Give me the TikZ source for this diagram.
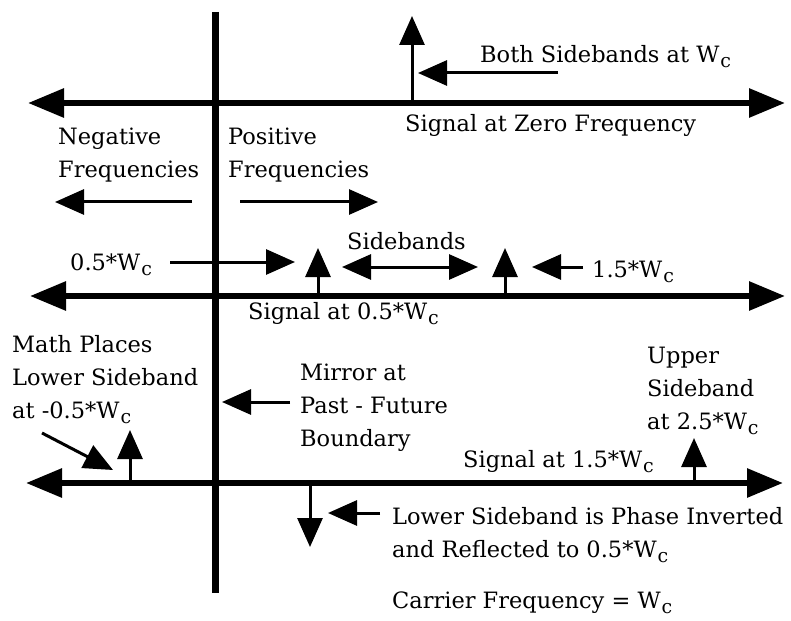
\documentclass[tikz,border=0pt]{standalone}
\usepackage{fontspec}
\setmainfont{DejaVu Serif}
\usetikzlibrary{arrows.meta}

\newcommand{\Wc}{W\kern1pt\raisebox{-5pt}{\fontsize{19}{19}\selectfont c}}

\begin{document}
\begin{tikzpicture}[x=1pt,y=-1pt,
    axis/.style={line width=6pt,{Triangle[length=36pt,width=28pt]}-{Triangle[length=36pt,width=28pt]}},
    boundary/.style={line width=7pt},
    pointer/.style={line width=3pt,-{Triangle[length=29pt,width=25pt]}},
    twoway/.style={pointer,{Triangle[length=29pt,width=25pt]}-{Triangle[length=29pt,width=25pt]}},
    note/.style={font=\fontsize{22.5}{33}\selectfont,anchor=base west,align=left,inner sep=0pt}]

  \path[fill=white,use as bounding box] (0,0) rectangle (791,620);

  % past / future boundary
  \coordinate (top) at (215,12);
  \coordinate (bottom) at (215,593);
  \draw[boundary] (top) -- (bottom);

  % the three frequency axes
  \foreach \n/\y/\l/\r in {1/103/28/785, 2/296/30/785, 3/483/26/783}{
    \coordinate (w\n) at (\l,\y);
    \coordinate (e\n) at (\r,\y);
    \draw[axis] (w\n) -- (e\n);
  }

  % impulses standing on the axes
  \foreach \n/\x/\y/\h in {a/412/103/16, b/318/296/248, c/505/296/248,
                           d/130/483/430, e/694/483/438, f/310/483/547}{
    \coordinate (foot\n) at (\x,\y);
    \coordinate (tip\n) at (\x,\h);
    \draw[pointer] (foot\n) -- (tip\n);
  }

  % labels (multi-line ones sit on their last baseline)
  \node[note] (both) at (480,63) {Both Sidebands at \Wc};
  \node[note] (zero) at (405,132) {Signal at Zero Frequency};
  \node[note] (neg) at (58,178) {Negative\\Frequencies};
  \node[note] (pos) at (228,178) {Positive\\Frequencies};
  \node[note] (half) at (70,270) {0.5*\Wc};
  \node[note] (sb) at (347,249) {Sidebands};
  \node[note] (onefive) at (592,277) {1.5*\Wc};
  \node[note] (sig2) at (248,319) {Signal at 0.5*\Wc};
  \node[note] (math) at (12,418) {Math Places\\Lower Sideband\\at -0.5*\Wc};
  \node[note] (mirror) at (300,446) {Mirror at\\Past - Future\\Boundary};
  \node[note] (upper) at (647,429) {Upper\\Sideband\\at 2.5*\Wc};
  \node[note] (sig3) at (463,467) {Signal at 1.5*\Wc};
  \node[note] (inv) at (392,557) {Lower Sideband is Phase Inverted\\and Reflected to 0.5*\Wc};
  \node[note] (carrier) at (392,608) {Carrier Frequency = \Wc};

  % pointers
  \foreach \n/\a/\b/\c/\d in {both/558/73/418/73, neg/192/202/55/202,
                              pos/240/202/378/202, half/170/262/295/262,
                              onefive/583/267/532/267, math/42/433/113/470,
                              mirror/290/402/222/402, inv/380/513/328/513}{
    \coordinate (\n from) at (\a,\b);
    \coordinate (\n to) at (\c,\d);
    \draw[pointer] (\n from) -- (\n to);
  }
  \coordinate (sb from) at (342,267);
  \coordinate (sb to) at (478,267);
  \draw[twoway] (sb from) -- (sb to);
\end{tikzpicture}
\end{document}
